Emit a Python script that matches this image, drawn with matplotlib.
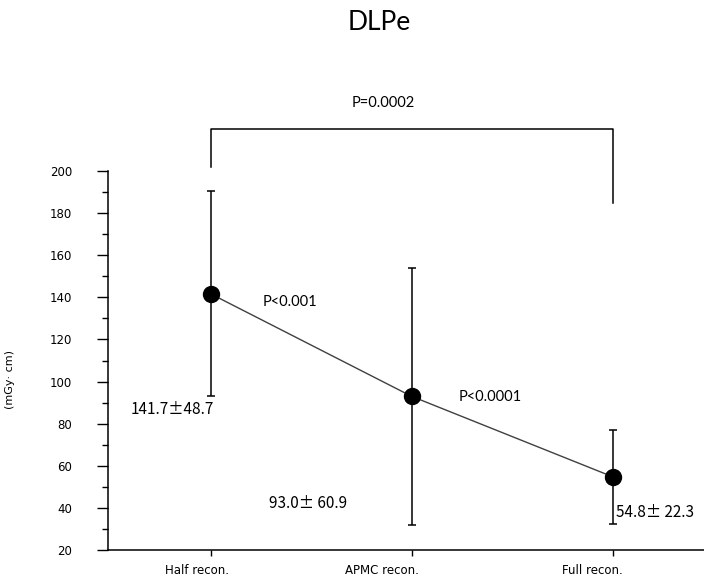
import matplotlib
matplotlib.use("Agg")
import matplotlib.pyplot as plt
import matplotlib.transforms as mtransforms
from matplotlib.ticker import MultipleLocator

# data
groups = ["Half recon.", "APMC recon.", "Full recon."]
means = [141.7, 93.0, 54.8]
sds = [48.7, 60.9, 22.3]
value_labels = ["141.7\u00b148.7", "93.0\u00b1 60.9", "54.8\u00b1 22.3"]
pair_p = ["P<0.001", "P<0.0001"]
overall_p = "P=0.0002"

x = list(range(len(groups)))

fig = plt.figure(figsize=(7.04, 5.82), dpi=100)
ax = fig.add_axes([108 / 704, 32 / 582, 596 / 704, 379 / 582])

ax.plot(x, means, color="#404040", lw=1.0, zorder=2)
ax.errorbar(x, means, yerr=sds, fmt="none", ecolor="black", elinewidth=1.1,
            capsize=3, capthick=1.1, zorder=3)
ax.plot(x, means, "o", color="black", ms=11.5, zorder=4)

ax.set_xlim(-0.51, 2.455)
ax.set_ylim(20, 200)
ax.yaxis.set_major_locator(MultipleLocator(20))
ax.yaxis.set_minor_locator(MultipleLocator(10))
ax.set_xticks(x)
ax.set_xticklabels(groups, fontsize=8.5, family="DejaVu Sans")
ax.tick_params(axis="y", which="major", length=8, width=1, pad=18, labelsize=8.5)
ax.tick_params(axis="y", which="minor", length=4, width=1)
ax.tick_params(axis="x", length=4, width=1, pad=6)
for s in ("top", "right"):
    ax.spines[s].set_visible(False)
for s in ("left", "bottom"):
    ax.spines[s].set_linewidth(1.1)

# labels sit a bit left of their ticks in the original
shifts = [-14, -30, -20]
for lab, dx in zip(ax.get_xticklabels(), shifts):
    off = mtransforms.ScaledTranslation(dx / 100, 0, fig.dpi_scale_trans)
    lab.set_transform(lab.get_transform() + off)

ax.set_ylabel("(mGy\u00b7 cm)", fontsize=8)
ax.yaxis.set_label_coords(-0.156, 0.45)

tfont = dict(family="Lato", fontsize=10.5, ha="center", va="center")
vfont = dict(family=["Noto Sans CJK JP", "DejaVu Sans"], fontsize=11,
             ha="center", va="center")
ax.text(-0.19, 86.5, value_labels[0], **vfont)
ax.text(0.485, 41.9, value_labels[1], **vfont)
ax.text(2.21, 37.6, value_labels[2], **vfont)
ax.text(0.397, 137.8, pair_p[0], **tfont)
ax.text(1.39, 92.7, pair_p[1], **tfont)

# bracket between half and full recon.
ax.plot([0, 0, 2, 2], [202, 220, 220, 184.8], color="black", lw=1.1,
        clip_on=False)
ax.text(0.86, 232.4, overall_p, clip_on=False, **tfont)

fig.text(379 / 704, 1 - 22 / 582, "DLPe", family="Lato", fontsize=19,
         ha="center", va="center")

fig.savefig("out.png", dpi=100)
